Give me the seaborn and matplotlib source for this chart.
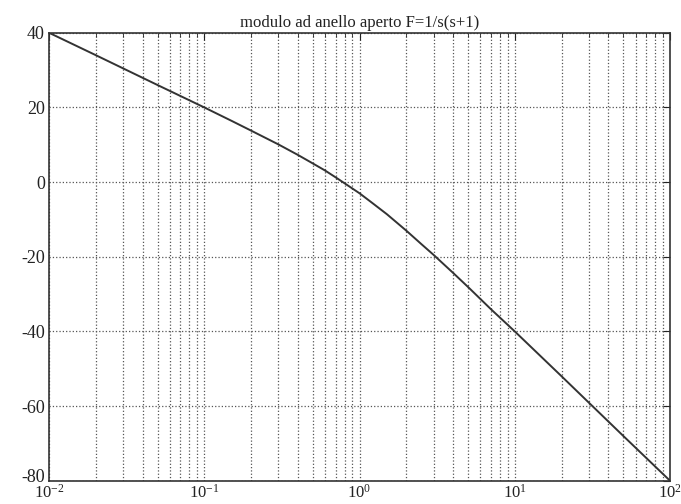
import matplotlib
matplotlib.use('Agg')
import matplotlib.pyplot as plt
import matplotlib.transforms as mtransforms
import seaborn as sns
import pandas as pd
from matplotlib.ticker import LogLocator, NullFormatter

# valori (pulsazione, modulo in dB)
omega = [0.01, 0.02, 0.05, 0.1, 0.15, 0.2, 0.3, 0.4, 0.5, 0.6, 0.7, 0.8, 1.0, 1.2, 1.5,
         2.0, 2.5, 3.0, 4.0, 5.0, 7.0, 10.0, 20.0, 50.0, 100.0]
modulo_db = [40, 34, 26, 20, 16.4, 13.8, 10.1, 7.3, 5.0, 3.1, 1.3, -0.3, -3.0, -5.5, -8.6,
             -13.0, -16.6, -19.5, -24.3, -28.1, -34.0, -40.0, -52.0, -68.0, -80.0]
y_ticks = [-80, -60, -40, -20, 0, 20, 40]

df = pd.DataFrame({'omega': omega, 'dB': modulo_db})

sns.set_style('white')
plt.rcParams['font.family'] = ['Liberation Serif', 'DejaVu Serif']
plt.rcParams['mathtext.fontset'] = 'stix'
plt.rcParams['axes.unicode_minus'] = False

fig = plt.figure(figsize=(6.81, 5.04), dpi=100)
ax = fig.add_axes([0.072, 0.046, 0.912, 0.889])

sns.lineplot(data=df, x='omega', y='dB', ax=ax, color='#333333', linewidth=1.4)

ax.set_xscale('log')
ax.set_xlim(0.01, 100)
ax.set_ylim(-80, 40)
ax.set_yticks(y_ticks)
ax.xaxis.set_minor_locator(LogLocator(base=10, subs=range(2, 10)))
ax.xaxis.set_minor_formatter(NullFormatter())

ax.grid(True, which='both', axis='x', linestyle=':', color='#555555', linewidth=0.9)
ax.grid(True, which='major', axis='y', linestyle=':', color='#555555', linewidth=0.9)

ax.tick_params(which='both', direction='in', top=True, right=True, colors='#222222')
ax.tick_params(which='major', length=5)
ax.tick_params(which='minor', length=3)
ax.tick_params(axis='x', which='major', pad=2, labelsize=12)
ax.tick_params(axis='y', which='major', pad=3, labelsize=13)
for s in ax.spines.values():
    s.set_color('#333333')
    s.set_linewidth(1.2)

# alza un po' l'etichetta -80 per non toccare 10^-2
lab = ax.get_yticklabels()[0]
lab.set_transform(lab.get_transform() + mtransforms.ScaledTranslation(0, 4 / 72, fig.dpi_scale_trans))

ax.set_xlabel('')
ax.set_ylabel('')
ax.set_title('modulo ad anello aperto F=1/s(s+1)', fontsize=12, color='#222222', pad=4)

fig.savefig('out.png', dpi=100)
